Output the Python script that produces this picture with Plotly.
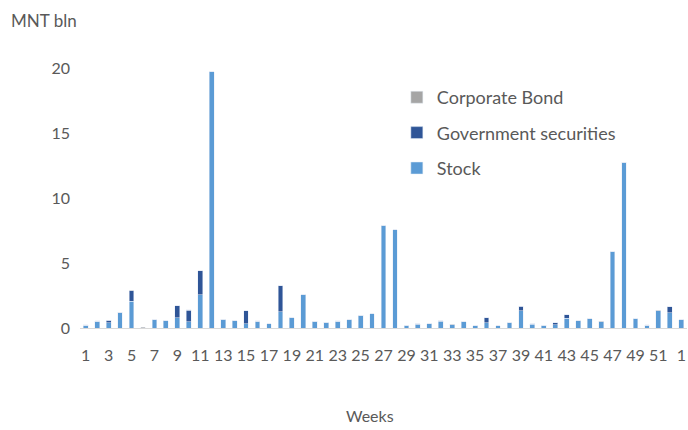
import plotly.graph_objects as go

weeks = [str(i) for i in range(1, 53)] + ["1"]
stock = [0.22, 0.52, 0.40, 1.20, 2.05, 0.0, 0.62, 0.56, 0.77, 0.49, 2.54, 19.7, 0.67, 0.54,
         0.33, 0.52, 0.31, 1.25, 0.77, 2.54, 0.52, 0.44, 0.52, 0.62, 1.00, 1.08, 7.9, 7.55,
         0.21, 0.28, 0.31, 0.52, 0.26, 0.47, 0.16, 0.41, 0.16, 0.39, 1.33, 0.28, 0.21, 0.25,
         0.74, 0.54, 0.70, 0.49, 5.88, 12.75, 0.70, 0.23, 1.34, 1.18, 0.62]
gov = [0.0, 0.0, 0.18, 0.0, 0.82, 0.0, 0.0, 0.0, 0.95, 0.89, 1.87, 0.0, 0.0, 0.0,
       1.0, 0.0, 0.0, 2.0, 0.0, 0.0, 0.0, 0.0, 0.0, 0.0, 0.0, 0.0, 0.0, 0.0,
       0.0, 0.05, 0.0, 0.05, 0.0, 0.0, 0.0, 0.36, 0.0, 0.0, 0.33, 0.05, 0.0, 0.16,
       0.28, 0.0, 0.0, 0.0, 0.0, 0.0, 0.0, 0.0, 0.0, 0.46, 0.0]
corp = [0.02, 0.02, 0.0, 0.02, 0.02, 0.05, 0.02, 0.0, 0.0, 0.02, 0.0, 0.0, 0.02, 0.0,
        0.0, 0.02, 0.0, 0.0, 0.02, 0.02, 0.0, 0.0, 0.02, 0.0, 0.0, 0.0, 0.0, 0.0,
        0.02, 0.0, 0.02, 0.0, 0.02, 0.02, 0.0, 0.0, 0.02, 0.02, 0.0, 0.0, 0.02, 0.0,
        0.0, 0.02, 0.02, 0.02, 0.0, 0.0, 0.02, 0.02, 0.02, 0.0, 0.02]

x = list(range(len(weeks)))
font = "Lato, 'Open Sans', sans-serif"
tc = "#595959"

fig = go.Figure()
fig.add_trace(go.Bar(x=x, y=stock, name="Stock", marker_color="#5B9BD5",
                     legendgroup="a", legendrank=3))
fig.add_trace(go.Bar(x=x, y=gov, name="Government securities", marker_color="#2F5597",
                     legendgroup="b", legendrank=2))
fig.add_trace(go.Bar(x=x, y=corp, name="Corporate Bond", marker_color="#A5A5A5",
                     legendgroup="c", legendrank=1))

fig.update_layout(
    barmode="stack",
    bargap=0.58,
    width=688, height=430,
    margin=dict(l=80, r=1, t=55, b=102),
    paper_bgcolor="white", plot_bgcolor="white",
    font=dict(family=font, color=tc, size=16),
    showlegend=True,
    legend=dict(x=0.522, y=0.912, xanchor="left", yanchor="top", traceorder="grouped",
                font=dict(size=18, color=tc), tracegroupgap=9, bgcolor="rgba(0,0,0,0)",
                itemwidth=30),
    xaxis=dict(range=[-0.5, 52.5], tickmode="array", tickvals=x[::2], ticktext=weeks[::2],
               showgrid=False, showline=True, linecolor="#D9D9D9", linewidth=1,
               ticks="", tickfont=dict(size=16, color=tc), zeroline=False,
               ticklabelstandoff=13),
    yaxis=dict(range=[0, 21], tickvals=[0, 5, 10, 15, 20], showgrid=False, showline=False,
               zeroline=False, ticks="", tickfont=dict(size=16, color=tc), ticklabelstandoff=9),
    annotations=[
        dict(text="MNT bln", x=(44 - 80) / 607, y=(328 - 20) / 273, xref="paper", yref="paper",
             showarrow=False, xanchor="center", yanchor="middle", font=dict(size=17, color=tc)),
        dict(text="Weeks", x=(370 - 80) / 607, y=(328 - 415) / 273, xref="paper", yref="paper",
             showarrow=False, xanchor="center", yanchor="middle", font=dict(size=16, color=tc)),
    ],
)

fig.write_html("out.html")
